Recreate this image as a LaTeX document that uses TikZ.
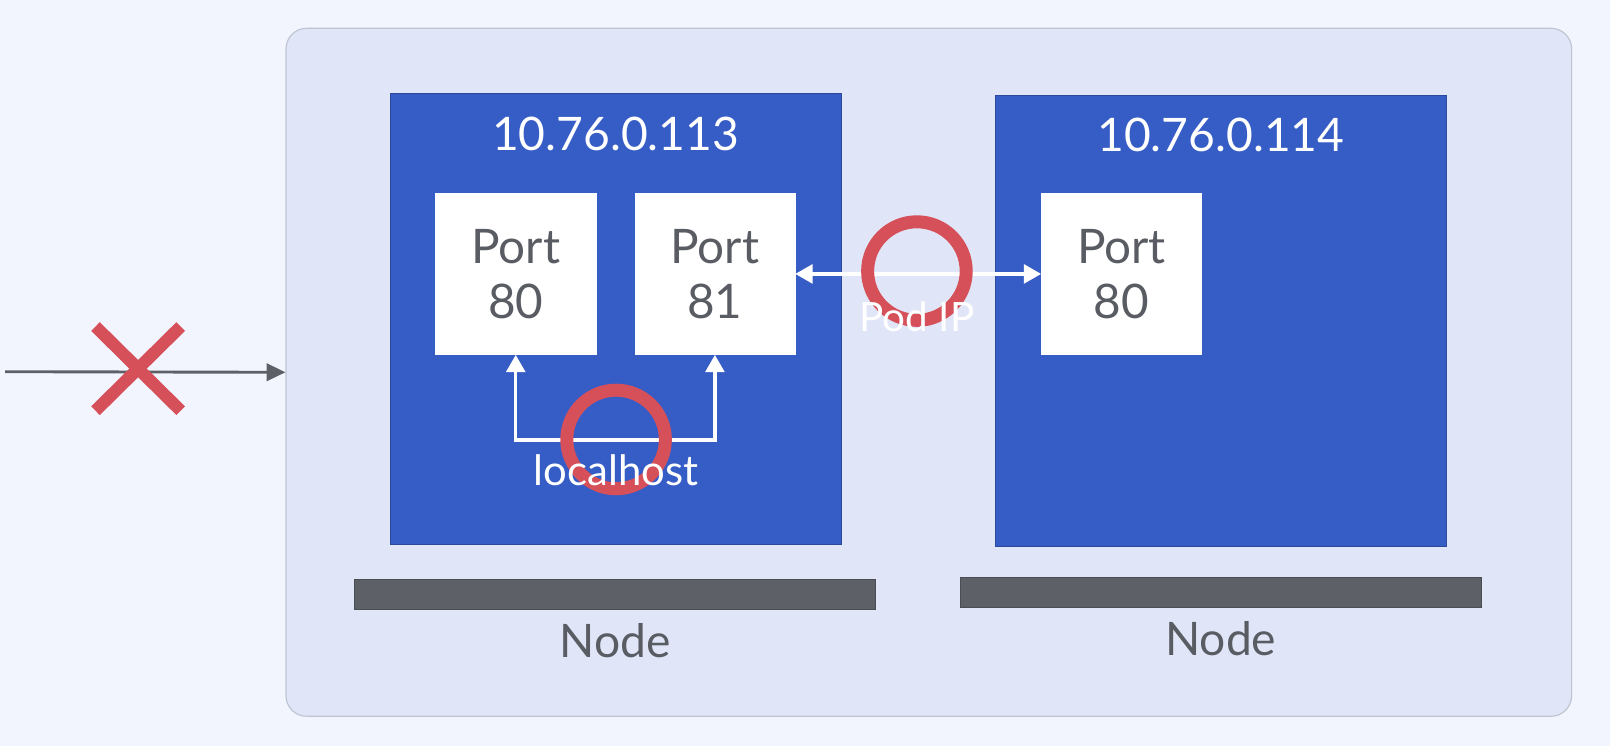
\documentclass[tikz,border=0pt]{standalone}
\usepackage{fontspec}
\setmainfont{Lato}
\usepackage{tikz}
\usetikzlibrary{calc, positioning, arrows.meta}
\definecolor{PageBg}{RGB}{242, 245, 253}
\definecolor{ClusterBg}{RGB}{224, 230, 247}
\definecolor{ClusterLine}{RGB}{190, 196, 210}
\definecolor{PodBlue}{RGB}{54, 92, 198}
\definecolor{AlertRed}{RGB}{214, 80, 90}
\definecolor{BarGrey}{RGB}{93, 96, 102}
\definecolor{TextGrey}{RGB}{89, 92, 98}

\tikzset{
    podbox/.style={fill=PodBlue, draw=PodBlue!80!black, line width=0.4pt,
        minimum width=109.75mm, minimum height=109.75mm, anchor=north west, inner sep=0pt},
    portbox/.style={fill=white, draw=white, minimum width=39mm, minimum height=39.25mm,
        anchor=north west, inner sep=0pt, text=TextGrey, align=center,
        font=\fontsize{33}{38}\selectfont},
    nodebar/.style={fill=BarGrey, draw=BarGrey!80!black, line width=0.6pt,
        minimum width=126.75mm, minimum height=7.25mm, anchor=north west, inner sep=0pt},
    biglabel/.style={font=\fontsize{32}{36}\selectfont, inner sep=0pt},
    linklabel/.style={font=\fontsize{29}{34}\selectfont, inner sep=0pt, text=white},
    okring/.style={draw=AlertRed, line width=9pt},
    tip/.style={Triangle[length=12pt, width=13pt]},
    linkarrow/.style={white, line width=2.4pt, {Triangle[length=12pt, width=13pt]}-{Triangle[length=12pt, width=13pt]}}
}

\begin{document}
\begin{tikzpicture}[x=0.25mm, y=-0.25mm]
    % Fondo y marco
    \useasboundingbox (0,0) rectangle (1568,727);
    \fill[PageBg] (0,0) rectangle (1568,727);
    \node[fill=ClusterBg, draw=ClusterLine, line width=0.8pt, rounded corners=5mm,
        minimum width=313mm, minimum height=167.5mm, anchor=north west, inner sep=0pt]
        (cluster) at (278,27) {};

    % Pods
    \node[podbox] (podA) at (380,91) {};
    \node[podbox] (podB) at (969,93) {};
    \node[biglabel, text=white] (ipA) at (599.5,130) {10.76.0.113};
    \node[biglabel, text=white] (ipB) at (1189,131) {10.76.0.114};

    % Puertos
    \node[portbox] (portA) at (424,188) {Port\\80};
    \node[portbox] (portB) at (618,188) {Port\\81};
    \node[portbox] (portC) at (1014,188) {Port\\80};

    % Nodos
    \node[nodebar] (barA) at (345,564) {};
    \node[nodebar] (barB) at (935,562) {};
    \node[biglabel, text=TextGrey, below=3.2mm of barA.south] (nodeA) {Node};
    \node[biglabel, text=TextGrey, below=3.2mm of barB.south] (nodeB) {Node};

    % localhost
    \coordinate (lhLeft) at ($(portA.south)+(0,83)$);
    \coordinate (lhRight) at ($(portB.south)+(0,83)$);
    \draw[linkarrow] (portA.south) -- (lhLeft) -- (lhRight) -- (portB.south);
    \draw[okring] (600,428) circle (48);
    \node[linklabel] (lhText) at (600,458) {localhost};

    % Pod IP
    \draw[linkarrow] (portB.east) -- (portC.west);
    \draw[okring] (893,264) circle (48);
    \node[linklabel, font=\fontsize{28}{34}\selectfont] (podIP) at (893,308) {Pod IP};

    % Acceso externo bloqueado
    \coordinate (outside) at (5,362);
    \draw[BarGrey, line width=2pt, -{Triangle[length=13pt, width=12pt]}] (outside) -- (cluster.west);
    \draw[AlertRed, line width=8.5pt] (93,318) -- (176,400);
    \draw[AlertRed, line width=8.5pt] (176,318) -- (93,400);
\end{tikzpicture}
\end{document}
